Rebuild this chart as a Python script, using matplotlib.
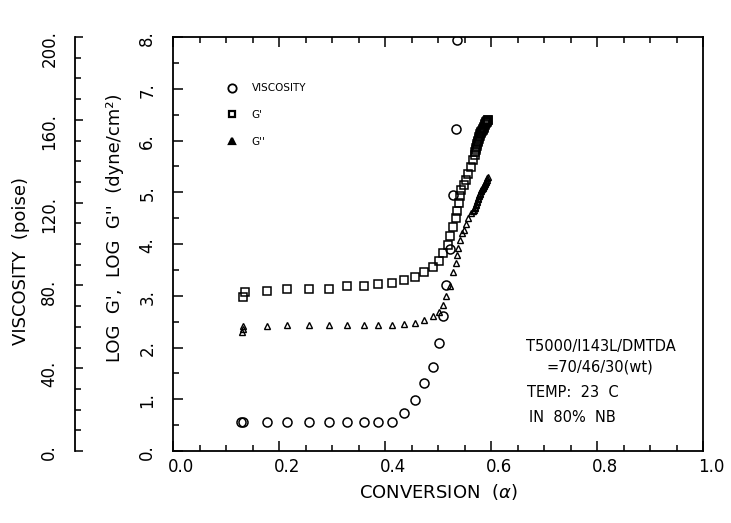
import matplotlib
matplotlib.use("Agg")
import matplotlib.pyplot as plt
import matplotlib.transforms as mtransforms
from matplotlib.lines import Line2D
from matplotlib.ticker import MultipleLocator
import numpy as np

# viscosity (poise) vs conversion
visc_x = [0.128, 0.133, 0.177, 0.216, 0.256, 0.294, 0.328, 0.360, 0.387, 0.413,
          0.436, 0.457, 0.474, 0.491, 0.501, 0.510, 0.516, 0.523, 0.529, 0.534, 0.535]
visc_y = [14, 14, 14, 14, 14, 14, 14, 14, 14, 14,
          18.5, 24.6, 32.7, 40.6, 52.3, 65.2, 80.2, 97.4, 123.7, 155.4, 198.6]

# log G' vs conversion
gp_x = [0.132, 0.136, 0.177, 0.216, 0.256, 0.294, 0.328, 0.360, 0.387, 0.413,
        0.436, 0.457, 0.474, 0.491, 0.501, 0.510, 0.518, 0.523, 0.529, 0.534,
        0.536, 0.539, 0.542, 0.543, 0.549, 0.553, 0.557, 0.562, 0.566, 0.569,
        0.570, 0.571, 0.572, 0.573, 0.574, 0.575, 0.576, 0.577, 0.578, 0.579,
        0.580, 0.581, 0.582, 0.583, 0.584, 0.585, 0.586, 0.587, 0.588, 0.589,
        0.590, 0.591, 0.592, 0.593, 0.594, 0.595]
gp_y = [2.98, 3.08, 3.10, 3.13, 3.14, 3.14, 3.18, 3.19, 3.22, 3.25,
        3.30, 3.37, 3.45, 3.55, 3.68, 3.83, 3.99, 4.15, 4.32, 4.50,
        4.64, 4.79, 4.93, 5.04, 5.14, 5.24, 5.35, 5.49, 5.62, 5.72,
        5.77, 5.82, 5.86, 5.90, 5.93, 5.97, 6.00, 6.03, 6.06, 6.09,
        6.12, 6.14, 6.17, 6.19, 6.21, 6.23, 6.25, 6.27, 6.29, 6.31,
        6.33, 6.35, 6.36, 6.38, 6.39, 6.40]

# log G'' vs conversion
gpp_x = [0.131, 0.132, 0.133, 0.177, 0.216, 0.256, 0.294, 0.328, 0.360, 0.387,
         0.413, 0.436, 0.457, 0.474, 0.491, 0.501, 0.510, 0.516, 0.523, 0.529,
         0.534, 0.536, 0.538, 0.542, 0.545, 0.549, 0.553, 0.557, 0.562, 0.566,
         0.568, 0.569, 0.570, 0.571, 0.572, 0.573, 0.574, 0.575, 0.576, 0.577,
         0.578, 0.579, 0.580, 0.581, 0.582, 0.583, 0.584, 0.585, 0.586, 0.587,
         0.588, 0.589, 0.590, 0.591, 0.592, 0.593, 0.594]
gpp_y = [2.30, 2.36, 2.42, 2.42, 2.43, 2.43, 2.43, 2.43, 2.43, 2.43,
         2.44, 2.45, 2.48, 2.54, 2.61, 2.69, 2.82, 3.00, 3.18, 3.46,
         3.63, 3.78, 3.92, 4.08, 4.21, 4.28, 4.39, 4.50, 4.59, 4.63,
         4.66, 4.69, 4.72, 4.75, 4.78, 4.81, 4.84, 4.87, 4.89, 4.92,
         4.94, 4.97, 4.99, 5.02, 5.04, 5.06, 5.08, 5.10, 5.12, 5.14,
         5.16, 5.18, 5.20, 5.22, 5.24, 5.27, 5.30]

x_ticks = [0.0, 0.2, 0.4, 0.6, 0.8, 1.0]
x_ticklabels = ["0.0", "0.2", "0.4", "0.6", "0.8", "1.0"]
log_ticks = [0, 1, 2, 3, 4, 5, 6, 7, 8]
log_ticklabels = ["0.", "1.", "2.", "3.", "4.", "5.", "6.", "7.", "8."]
visc_ticks = [0, 40, 80, 120, 160, 200]
visc_ticklabels = ["0.", "40.", "80.", "120.", "160.", "200."]

legend_labels = ["VISCOSITY", "G'", "G''"]
notes = ["T5000/I143L/DMTDA", "=70/46/30(wt)", "TEMP:  23  C", "IN  80%  NB"]

plt.rcParams['font.family'] = ['DejaVu Sans']

fig = plt.figure(figsize=(7.31, 5.23), dpi=100)
ax = fig.add_axes([173/731, 72/523, 530/731, 414/523])

ax.set_xlim(0, 1)
ax.set_ylim(0, 8)

mk = dict(mfc='none', mec='black', linestyle='none')
ax.plot(gp_x, gp_y, marker='s', ms=5.2, mew=1.1, **mk)
ax.plot(gpp_x, gpp_y, marker='^', ms=4.8, mew=1.0, **mk)

ax.set_xticks(x_ticks)
ax.set_xticklabels(x_ticklabels)
ax.xaxis.set_minor_locator(MultipleLocator(0.05))
ax.set_yticks(log_ticks)
ax.set_yticklabels(log_ticklabels)
ax.yaxis.set_minor_locator(MultipleLocator(0.5))
ax.tick_params(which='both', direction='in', top=True, right=True, width=1.1)
ax.tick_params(which='major', length=7, labelsize=12)
ax.tick_params(which='minor', length=4)
ax.tick_params(axis='y', labelrotation=90, pad=12)
ax.tick_params(axis='x', pad=5)
for s in ax.spines.values():
    s.set_linewidth(1.3)

# shift x tick labels a little to the right, like the original plotter output
off = mtransforms.ScaledTranslation(8/100, 0, fig.dpi_scale_trans)
for lbl in ax.get_xticklabels():
    lbl.set_transform(lbl.get_transform() + off)

ax.set_xlabel("CONVERSION  ($\\alpha$)", fontsize=13)
ax.xaxis.set_label_coords(0.5, -0.075)
ax.set_ylabel("LOG  G',  LOG  G''  (dyne/cm²)", fontsize=13)
ax.yaxis.set_label_coords(-0.093, 0.54)

# viscosity axis on a second left spine
ax2 = ax.twinx()
ax2.set_ylim(0, 200)
ax2.plot(visc_x, visc_y, marker='o', ms=6.5, mew=1.1, **mk)
ax2.yaxis.set_ticks_position('left')
ax2.yaxis.set_label_position('left')
ax2.spines['left'].set_position(('axes', -0.185))
ax2.spines['left'].set_visible(True)
ax2.spines['left'].set_linewidth(1.3)
for side in ['right', 'top', 'bottom']:
    ax2.spines[side].set_visible(False)
ax2.set_yticks(visc_ticks)
ax2.set_yticklabels(visc_ticklabels)
ax2.yaxis.set_minor_locator(MultipleLocator(10))
ax2.tick_params(which='both', direction='in', width=1.1)
ax2.tick_params(which='major', length=6, labelsize=12, labelrotation=90, pad=12)
ax2.tick_params(which='minor', length=4)
ax2.set_ylabel("VISCOSITY  (poise)", fontsize=13)
ax2.yaxis.set_label_coords(-0.27, 0.46)

handles = [Line2D([], [], marker='o', ms=6, mew=1.3, **mk),
           Line2D([], [], marker='s', ms=5, mew=1.6, **mk),
           Line2D([], [], marker='^', ms=5, mew=1.6, mfc='black', mec='black', linestyle='none')]
ax2.legend(handles, legend_labels, loc='upper left', bbox_to_anchor=(0.101, 0.888),
           frameon=False, fontsize=7.5, borderpad=0, borderaxespad=0,
           handlelength=1.0, handletextpad=1.4, labelspacing=1.6)

note_pos = [(0.8075, 0.2536), (0.806, 0.203), (0.755, 0.1425), (0.753, 0.080)]
for t, (px, py) in zip(notes, note_pos):
    ax2.text(px, py, t, transform=ax2.transAxes, ha='center', va='center', fontsize=10.5)

fig.savefig("out.png", dpi=100)
